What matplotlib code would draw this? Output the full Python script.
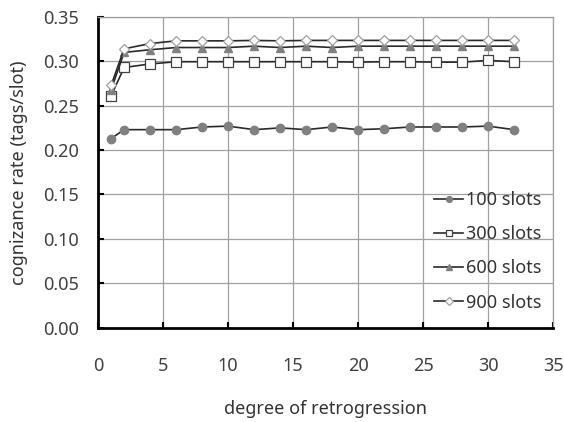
import matplotlib

matplotlib.use("Agg")
import matplotlib.pyplot as plt

# degree of retrogression sampled in the experiment
degrees = [1, 2, 4, 6, 8, 10, 12, 14, 16, 18, 20, 22, 24, 26, 28, 30, 32]

rate_100 = [0.213, 0.223, 0.223, 0.223, 0.226, 0.227, 0.223, 0.225, 0.223,
            0.226, 0.223, 0.224, 0.226, 0.226, 0.226, 0.227, 0.223]
rate_300 = [0.261, 0.293, 0.297, 0.2995, 0.2995, 0.2995, 0.2995, 0.2995, 0.2995,
            0.2995, 0.299, 0.2995, 0.2995, 0.299, 0.299, 0.301, 0.2995]
rate_600 = [0.268, 0.310, 0.313, 0.3155, 0.3155, 0.3155, 0.317, 0.3155, 0.317,
            0.3155, 0.317, 0.317, 0.317, 0.317, 0.317, 0.317, 0.317]
rate_900 = [0.273, 0.314, 0.320, 0.323, 0.323, 0.323, 0.3235, 0.323, 0.3235,
            0.3235, 0.3235, 0.3235, 0.3235, 0.3235, 0.3235, 0.3235, 0.3235]

labels = ["100 slots", "300 slots", "600 slots", "900 slots"]
x_ticks = [0, 5, 10, 15, 20, 25, 30, 35]
y_ticks = [0.00, 0.05, 0.10, 0.15, 0.20, 0.25, 0.30, 0.35]

plt.rcParams["font.family"] = ["Noto Sans", "DejaVu Sans"]
FS = 13

fig = plt.figure(figsize=(5.64, 4.22), dpi=100)
ax = fig.add_axes([0.174, 0.2235, 0.8065, 0.7365])

styles = [
    dict(marker="o", markersize=6, markerfacecolor="#808080", markeredgecolor="#808080"),
    dict(marker="s", markersize=7, markerfacecolor="white", markeredgecolor="#404040",
         markeredgewidth=0.9),
    dict(marker="^", markersize=6, markerfacecolor="#808080", markeredgecolor="#808080"),
    dict(marker="D", markersize=5.5, markerfacecolor="white", markeredgecolor="#a0a0a0",
         markeredgewidth=0.9),
]
series = [rate_100, rate_300, rate_600, rate_900]
handles = []
for values, label, style in zip(series, labels, styles):
    (line,) = ax.plot(degrees, values, color="#2a2a2a", linewidth=1.2, label=label,
                      zorder=3, **style)
    handles.append(line)

ax.set_xlim(0, 35)
ax.set_ylim(0, 0.35)
ax.set_xticks(x_ticks)
ax.set_yticks(y_ticks)
ax.set_yticklabels([f"{v:.2f}" for v in y_ticks])
ax.grid(True, color="#a0a0a0", linewidth=0.9)
ax.set_axisbelow(True)

for side in ("top", "right"):
    ax.spines[side].set_color("#a0a0a0")
    ax.spines[side].set_linewidth(0.9)
for side in ("left", "bottom"):
    ax.spines[side].set_color("black")
    ax.spines[side].set_linewidth(2)

ax.tick_params(direction="in", length=4, width=1.5, colors="black",
               labelcolor="#404040", labelsize=FS)
ax.tick_params(axis="y", pad=14)
ax.tick_params(axis="x", pad=21)

ax.set_xlabel("degree of retrogression", fontsize=FS, color="#333333")
ax.set_ylabel("cognizance rate (tags/slot)", fontsize=FS, color="#333333")
ax.xaxis.set_label_coords(0.5, -0.232)
ax.yaxis.set_label_coords(-0.155, 0.5)

leg = ax.legend(handles=handles, loc="center left", bbox_to_anchor=(0.703, 0.246),
                frameon=False, fontsize=FS, handlelength=1.6, handletextpad=0.15,
                labelspacing=0.9, markerscale=0.7, labelcolor="#333333")

fig.savefig("out.png", dpi=100)
